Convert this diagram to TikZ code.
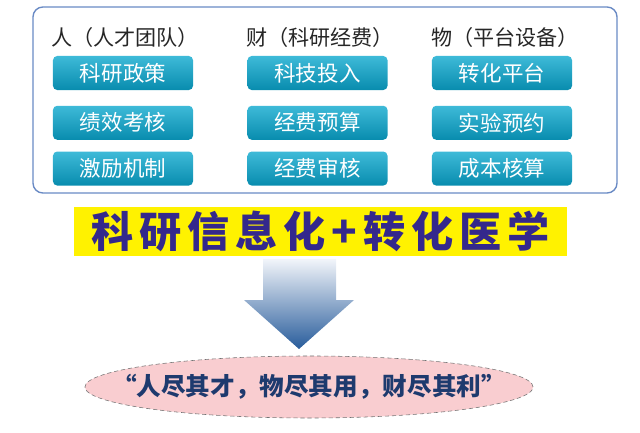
\documentclass[tikz,border=0pt]{standalone}
\usepackage{fontspec}
\setmainfont{Noto Sans CJK SC}
\usetikzlibrary{positioning,shapes.geometric}
\definecolor{framecol}{RGB}{105,138,196}
\definecolor{celltop}{RGB}{62,186,216}
\definecolor{cellbot}{RGB}{8,140,174}
\definecolor{bannerblue}{RGB}{52,40,140}
\definecolor{arrowtop}{RGB}{242,245,250}
\definecolor{arrowbot}{RGB}{40,92,155}
\definecolor{mottofill}{RGB}{249,205,208}
\definecolor{mottotext}{RGB}{30,58,110}

\begin{document}
\begin{tikzpicture}[
        x=0.025cm, y=-0.025cm,
        node distance=0.4cm,
        head/.style={font=\fontsize{15}{17}\selectfont, text=black!85, inner sep=0pt},
        cell/.style={rounded corners=3pt, top color=celltop, bottom color=cellbot,
          text=white, minimum width=3.5cm, minimum height=0.85cm, inner sep=0pt,
          font=\fontsize{15.3}{17}\selectfont},
        banner/.style={fill=yellow, minimum width=12.33cm, minimum height=1.23cm, inner sep=0pt,
          text=bannerblue, font=\fontsize{30}{32}\selectfont\bfseries\addfontfeatures{LetterSpace=14}},
        motto/.style={ellipse, fill=mottofill, draw=black!55, densely dashed, thin,
          minimum width=11.2cm, minimum height=1.55cm, inner sep=0pt},
        mottolabel/.style={text=mottotext, font=\fontsize{17.5}{19}\selectfont\bfseries}
      ]
      \useasboundingbox (0,0) rectangle (640,433);

      \draw[framecol, line width=1pt, rounded corners=7pt] (33,7) rectangle (617,193);

      \node[head] (ren) at (125,37) {人（人才团队）};
      \node[head] (cai) at (320,37) {财（科研经费）};
      \node[head] (wu)  at (505,37) {物（平台设备）};

      \node[cell] (ren1) at (123,73) {科研政策};
      \node[cell, below=0.38cm of ren1] (ren2) {绩效考核};
      \node[cell, below=0.28cm of ren2] (ren3) {激励机制};

      \node[cell] (cai1) at (317.5,73) {科技投入};
      \node[cell, below=0.38cm of cai1] (cai2) {经费预算};
      \node[cell, below=0.28cm of cai2] (cai3) {经费审核};

      \node[cell] (wu1) at (502,73) {转化平台};
      \node[cell, below=0.38cm of wu1] (wu2) {实验预约};
      \node[cell, below=0.28cm of wu2] (wu3) {成本核算};

      \node[banner] (title) at (320.5,231.5) {科研信息化+转化医学};

      \node[motto] (goal) at (309,387) {};
      \node[mottolabel] (goaltext) at (goal) {“人尽其才，物尽其用，财尽其利”};

      \shade[top color=arrowtop, bottom color=arrowbot]
        (263,259) -- (336,259) -- (336,300) -- (354,300) -- (299,349)
        -- (244,300) -- (263,300) -- cycle;

    \end{tikzpicture}
\end{document}
